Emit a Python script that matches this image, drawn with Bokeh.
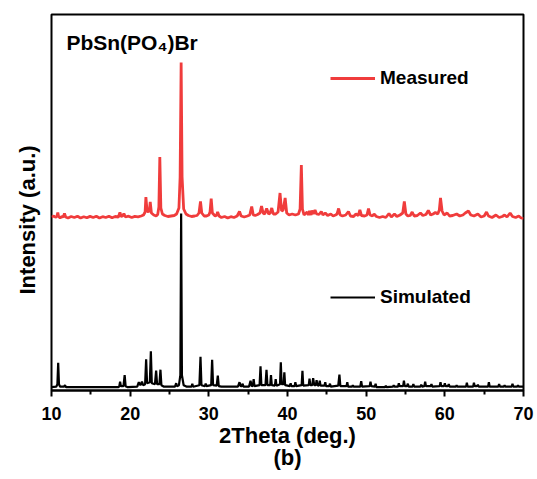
from bokeh.plotting import figure
from bokeh.models import Range1d, FixedTicker, Legend, LegendItem, Label, Title
from bokeh.embed import file_html
from bokeh.resources import INLINE

FONT = "Liberation Sans"
RED = "#f03c3c"

# ---- data -----------------------------------------------------------------
x_ticks = [10, 20, 30, 40, 50, 60, 70]
x_minor = [15, 25, 35, 45, 55, 65]

# Measured pattern: (2theta, intensity above its own baseline)
meas_pts = [
    (10.0, 0), (10.3, 1), (10.55, -0.5), (10.7, 1), (10.8, 4.5), (10.9, 0.5),
    (11.1, -1), (11.3, 0.5), (11.5, 0), (11.65, 3.5), (11.8, 0), (12.1, -1),
    (12.5, 0.5), (12.9, -0.5), (13.3, 0.8), (13.7, -1), (14.1, 0.3), (14.5, -0.8),
    (14.9, 0.6), (15.3, -0.5), (15.7, 0.8), (16.1, -1), (16.5, 0.3), (16.9, -0.5),
    (17.3, 0.8), (17.7, -0.8), (18.1, 0.5), (18.5, 0), (18.7, 4.5), (18.85, 0.5),
    (19.05, 1), (19.2, 3.5), (19.4, 0), (19.8, 0.8), (20.2, -0.5), (20.6, 0.6),
    (21.0, 0.2), (21.4, 1), (21.7, 2), (21.9, 5), (22.0, 20), (22.15, 6),
    (22.3, 5), (22.45, 7), (22.55, 15), (22.7, 4), (23.0, 2), (23.3, 1),
    (23.5, 2.5), (23.65, 10), (23.77, 60), (23.9, 9), (24.1, 3), (24.4, 1.5),
    (24.8, 0.5), (25.2, 1), (25.6, 1.5), (25.9, 3), (26.2, 9), (26.35, 40),
    (26.48, 154.5), (26.6, 40), (26.8, 8), (27.1, 3), (27.4, 1.5), (27.8, 0.5),
    (28.2, 1), (28.5, 1.5), (28.75, 4), (28.94, 15.5), (29.1, 4), (29.4, 1),
    (29.7, 1), (30.0, 2), (30.15, 5), (30.3, 18.5), (30.45, 4), (30.8, 1),
    (31.0, 2), (31.12, 5), (31.3, 1), (31.6, -0.5), (32.0, 0.5), (32.4, -1),
    (32.8, 0.3), (33.2, -0.5), (33.6, 1), (33.9, 5.5), (34.1, 1), (34.5, 0),
    (34.9, 1), (35.2, 2), (35.45, 10.5), (35.65, 2), (35.9, 1.5), (36.2, 2.5),
    (36.5, 4), (36.7, 11), (36.9, 4), (37.1, 3), (37.35, 8.5), (37.6, 3),
    (37.8, 4), (38.0, 9), (38.2, 3), (38.5, 3), (38.8, 5), (39.05, 24),
    (39.25, 6), (39.45, 7), (39.7, 19), (39.9, 4), (40.2, 2), (40.6, 3),
    (41.0, 2), (41.4, 3), (41.6, 8), (41.76, 52), (41.9, 8), (42.1, 2),
    (42.5, 5), (42.65, 2), (42.8, 6), (43.0, 2), (43.1, 6.5), (43.3, 3),
    (43.5, 7), (43.7, 3), (44.0, 2.5), (44.3, 5.5), (44.5, 2), (44.8, 4),
    (45.1, 1.5), (45.5, 3), (45.8, 1), (46.1, 2), (46.3, 3), (46.5, 8.5),
    (46.7, 2), (47.0, 1), (47.4, 2), (47.75, 5.5), (48.0, 1), (48.4, 0.5),
    (48.7, 3), (49.0, 1.5), (49.2, 7), (49.4, 1.5), (49.8, 1), (50.1, 2),
    (50.3, 8.5), (50.5, 2), (50.8, 1), (51.0, 3), (51.3, 0.5), (51.7, -0.5),
    (52.1, 0.5), (52.5, -0.5), (52.9, 3.5), (53.2, 0), (53.6, 3), (53.9, 0.5),
    (54.3, 2), (54.65, 4), (54.85, 15.5), (55.05, 3), (55.3, 1), (55.6, 1.5),
    (55.85, 5), (56.1, 1), (56.5, 1.5), (56.9, 4), (57.2, 1.5), (57.6, 2.5),
    (57.9, 6.5), (58.2, 2), (58.5, 3), (58.8, 4.5), (59.1, 3), (59.3, 7),
    (59.45, 19), (59.65, 6), (59.9, 2), (60.3, 4), (60.6, 1), (61.0, 1.5),
    (61.5, 3), (61.9, 1), (62.3, 2), (62.6, 4), (63.0, 6), (63.3, 2),
    (63.7, 1), (64.2, 3), (64.6, 0), (65.0, 1), (65.3, 5), (65.55, 1),
    (66.0, -0.5), (66.5, 2), (66.9, -0.5), (67.3, 0.5), (67.6, 2), (67.9, 0),
    (68.3, 4), (68.6, 0.5), (69.0, -0.5), (69.4, 1), (69.7, -1), (70.0, -1.5),
]

# Simulated pattern: (2theta, intensity)
sim_pts = [
    (10.0, 0), (10.6, 0.5), (10.75, 3), (10.85, 24.5), (10.95, 3), (11.1, 0.5),
    (11.6, 0.5), (11.72, 2), (11.85, 0), (18.5, 0), (18.62, 1), (18.72, 5.5),
    (18.82, 1), (19.15, 1), (19.3, 12), (19.42, 1), (19.7, 0), (20.9, 0.5),
    (21.1, 5), (21.3, 2), (21.5, 5.5), (21.65, 2), (21.9, 3), (22.03, 28),
    (22.15, 4), (22.5, 5), (22.63, 36), (22.75, 4), (23.15, 3), (23.3, 16.5),
    (23.42, 3), (23.72, 3), (23.85, 17.5), (23.97, 2), (24.3, 0.5), (25.7, 0.5),
    (25.85, 4), (25.95, 1), (26.2, 2), (26.38, 12), (26.48, 173.7), (26.58, 12),
    (26.8, 2), (27.2, 0.5), (27.8, 0.5), (27.9, 3.5), (28.0, 0.5), (28.8, 2),
    (28.94, 30.5), (29.06, 2), (29.5, 1), (29.6, 3.5), (29.7, 1), (30.3, 2),
    (30.42, 27.5), (30.54, 2), (31.0, 1.5), (31.14, 11.5), (31.26, 1), (31.6, 0.5),
    (33.7, 0.5), (33.9, 5), (34.05, 1), (34.2, 1), (34.3, 3.5), (34.4, 0.5),
    (35.1, 0.5), (35.3, 6.5), (35.45, 1), (35.6, 1.5), (35.7, 8), (35.8, 1),
    (36.45, 2), (36.57, 21), (36.68, 2), (37.2, 2), (37.33, 17.5), (37.45, 2),
    (37.8, 2), (37.9, 12), (38.0, 2), (38.4, 1.5), (38.5, 8), (38.6, 1.5),
    (39.05, 3), (39.15, 25), (39.25, 3), (39.5, 3), (39.6, 15), (39.7, 2),
    (40.3, 1), (40.4, 4), (40.5, 1), (40.9, 1), (41.0, 5), (41.1, 1),
    (41.8, 2), (41.9, 16.5), (42.0, 1.5), (42.7, 2), (42.8, 8.5), (42.9, 2),
    (43.15, 2), (43.26, 9), (43.4, 2), (43.6, 2), (43.7, 7), (43.8, 2),
    (44.0, 1.5), (44.1, 6.5), (44.2, 1.5), (44.7, 1.5), (44.8, 5), (44.9, 1),
    (45.3, 1), (45.4, 3.5), (45.5, 0.5), (46.45, 1.5), (46.6, 12.5), (46.72, 1),
    (47.5, 1), (47.6, 5), (47.7, 0.5), (48.2, 0.5), (48.3, 2), (48.4, 0.5),
    (49.25, 0.5), (49.37, 6), (49.48, 0.5), (50.45, 1), (50.55, 5.5), (50.65, 1),
    (51.1, 0.5), (51.2, 3.5), (51.3, 0), (52.4, 0), (52.5, 1.5), (52.6, 0),
    (53.4, 0.5), (53.5, 2), (53.6, 0.5), (54.05, 0.5), (54.15, 4), (54.25, 1),
    (54.7, 1), (54.8, 6.5), (54.9, 1), (55.2, 1), (55.3, 3.5), (55.4, 0.5),
    (55.9, 0.5), (56.0, 3), (56.1, 0.5), (56.9, 0.5), (57.0, 2.5), (57.1, 0.5),
    (57.4, 1), (57.5, 5.5), (57.6, 1), (58.2, 1), (58.3, 3), (58.4, 0.5),
    (59.35, 1), (59.45, 5), (59.55, 1), (59.9, 1), (60.0, 4), (60.1, 1),
    (60.4, 1), (60.5, 3), (60.6, 0.5), (61.4, 0.5), (61.5, 2), (61.6, 0.5),
    (62.7, 0.5), (62.8, 4.5), (62.9, 0.5), (63.6, 0.5), (63.7, 4.5), (63.8, 1),
    (64.1, 1), (64.2, 2.5), (64.3, 0.5), (65.5, 0.5), (65.6, 5), (65.7, 0.5),
    (66.8, 0.5), (66.9, 3), (67.0, 0.5), (67.5, 0.5), (67.6, 2), (67.7, 0.5),
    (68.5, 0.5), (68.6, 3.5), (68.7, 0.5), (69.2, 0.5), (69.3, 2), (69.4, 0.5),
    (70.0, 0.5),
]

meas_x = [p_[0] for p_ in meas_pts]
meas_y = [p_[1] for p_ in meas_pts]
sim_x = [p_[0] for p_ in sim_pts]
sim_y = [p_[1] for p_ in sim_pts]

MEAS_OFFSET = 170.2   # vertical stacking offset of the measured curve
meas_plot_y = [v + MEAS_OFFSET for v in meas_y]

# ---- figure ---------------------------------------------------------------
p = figure(frame_width=472, frame_height=376,
           x_range=Range1d(10, 70), y_range=Range1d(-3.3, 372.7),
           y_axis_location=None,
           output_backend="svg", toolbar_location=None,
           min_border_left=51, min_border_right=14, min_border_top=14,
           min_border_bottom=0)
p.background_fill_color = "white"
p.border_fill_color = "white"
p.outline_line_color = "black"
p.outline_line_width = 2
p.outline_line_alpha = 1
p.xgrid.visible = False
p.ygrid.visible = False

r_sim = p.line(sim_x, sim_y, line_color="black", line_width=2.2)
r_meas = p.line(meas_x, meas_plot_y, line_color=RED, line_width=2.8)

# x axis
xa = p.xaxis[0]
xa.ticker = FixedTicker(ticks=x_ticks, minor_ticks=x_minor)
xa.axis_line_width = 2
xa.axis_line_color = "black"
xa.major_tick_line_width = 2
xa.minor_tick_line_width = 2
xa.major_tick_out = 6
xa.major_tick_in = 0
xa.minor_tick_out = 4
xa.minor_tick_in = 0
xa.major_label_standoff = 10
xa.major_label_text_font = FONT
xa.major_label_text_font_style = "bold"
xa.major_label_text_font_size = "18px"
xa.major_label_text_color = "black"
xa.axis_label = "2Theta (deg.)\n(b)"
xa.axis_label_text_font = FONT
xa.axis_label_text_font_style = "bold"
xa.axis_label_text_font_size = "22px"
xa.axis_label_text_line_height = 0.9
xa.axis_label_text_color = "black"
xa.axis_label_standoff = 0

# y-axis title (no ticks in the reference)
p.add_layout(Title(text="Intensity (a.u.)", align="left", offset=96,
                   vertical_align="top", standoff=20,
                   text_font=FONT, text_font_style="bold", text_font_size="22px",
                   text_color="black"), "left")

p.add_layout(Label(x=11.9, y=344.7, text="PbSn(PO\u2084)Br",
                   text_align="left", text_baseline="middle",
                   text_font=FONT, text_font_style="bold", text_font_size="21px",
                   text_color="black"))


def make_legend(label, renderer, loc):
    lg = Legend(items=[LegendItem(label=label, renderers=[renderer])],
                location=loc, orientation="vertical")
    lg.border_line_color = None
    lg.background_fill_alpha = 0
    lg.padding = 0
    lg.margin = 0
    lg.spacing = 0
    lg.glyph_width = 45
    lg.glyph_height = 22
    lg.label_height = 22
    lg.label_standoff = 5
    lg.label_text_font = FONT
    lg.label_text_font_style = "bold"
    lg.label_text_font_size = "19px"
    lg.label_text_color = "black"
    lg.label_text_baseline = "middle"
    return lg


p.add_layout(make_legend("Measured", r_meas, (279, 301)))
p.add_layout(make_legend("Simulated", r_sim, (279, 82)))

open("out.html", "w").write(file_html(p, INLINE))
